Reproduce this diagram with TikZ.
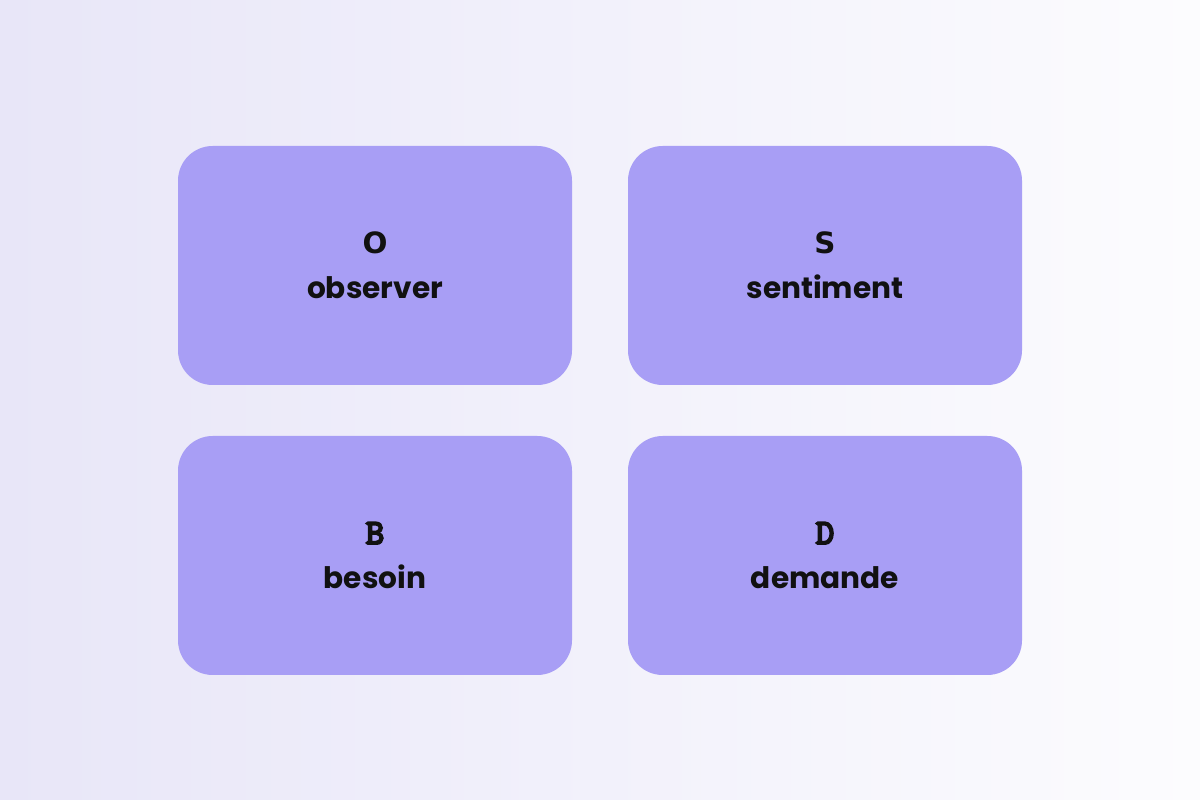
\documentclass[tikz,border=0pt]{standalone}
\usepackage{fontspec}
\usetikzlibrary{calc}
\newfontfamily\wordfont{Poppins}
\newfontfamily\sansletter{DejaVu Sans}
\newfontfamily\slabletter{lmmono10-regular.otf}[FakeBold=5.5]
\definecolor{bgl}{HTML}{E8E6F8}
\definecolor{bgr}{HTML}{FCFCFE}
\definecolor{boxc}{HTML}{A89EF5}
\definecolor{txt}{HTML}{111111}
\tikzset{
  card/.style={fill=boxc, draw=none, rounded corners=26pt, minimum width=295.5pt, minimum height=179.25pt, inner sep=0pt},
  letter/.style={anchor=base, inner sep=0pt, text=txt, font=\sansletter\bfseries\fontsize{22pt}{24pt}\selectfont},
  slab/.style={anchor=base, inner sep=0pt, text=txt, font=\slabletter\fontsize{26.5pt}{30pt}\selectfont},
  word/.style={anchor=base, inner sep=0pt, text=txt, font=\wordfont\bfseries\fontsize{22.2pt}{26pt}\selectfont}
}
\begin{document}
\begin{tikzpicture}[x=0.75pt,y=0.75pt]
\shade[left color=bgl, right color=bgr] (0,0) rectangle (1200,800);
\useasboundingbox (0,0) rectangle (1200,800);
\node[card] (bo) at (375,534.5) {};
\node[card] (bs) at (825,534.5) {};
\node[card] (bb) at (375,244.5) {};
\node[card] (bd) at (825,244.5) {};
\node[letter] (lo) at ($(bo.center)+(0,11.5)$) {O};
\node[word] (wo) at ($(bo.center)+(0,-33.5)$) {observer};
\node[letter] (ls) at ($(bs.center)+(0,11.5)$) {S};
\node[word] (ws) at ($(bs.center)+(0,-33.5)$) {sentiment};
\node[slab] (lb) at ($(bb.center)+(0,11.5)$) {B};
\node[word] (wb) at ($(bb.center)+(0,-33.5)$) {besoin};
\node[slab] (ld) at ($(bd.center)+(0,11.5)$) {D};
\node[word] (wd) at ($(bd.center)+(0,-33.5)$) {demande};
\end{tikzpicture}
\end{document}
